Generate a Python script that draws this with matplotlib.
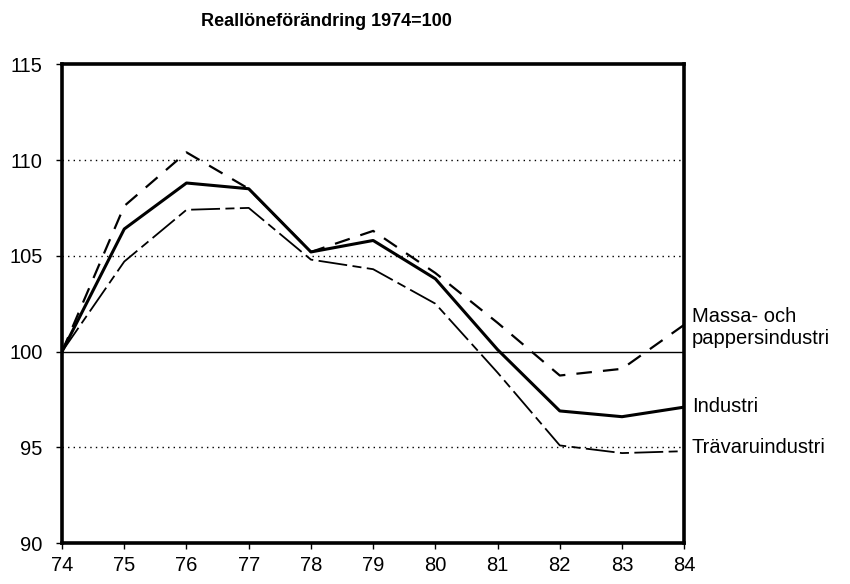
import matplotlib.pyplot as plt
import numpy as np

plt.rcParams['font.family'] = ['Liberation Sans', 'DejaVu Sans']

years = [74, 75, 76, 77, 78, 79, 80, 81, 82, 83, 84]
industri = [100, 106.4, 108.8, 108.5, 105.2, 105.8, 103.8, 100.1, 96.9, 96.6, 97.1]
massa = [100, 107.6, 110.4, 108.5, 105.2, 106.3, 104.1, 101.5, 98.75, 99.1, 101.4]
travaru = [100, 104.7, 107.4, 107.5, 104.8, 104.3, 102.5, 98.9, 95.1, 94.7, 94.8]

yticks = [90, 95, 100, 105, 110, 115]

fig = plt.figure(figsize=(8.5, 5.84), dpi=100)
ax = fig.add_axes([0.073, 0.070, 0.732, 0.820])

# reference lines
for v in [95, 105, 110]:
    ax.axhline(v, color='black', lw=1.0, ls=(0, (1, 3)), zorder=1)
ax.axhline(100, color='black', lw=1.0, zorder=1)

ax.plot(years, massa, color='black', lw=1.6, ls=(0, (7, 5)), zorder=3)
ax.plot(years, industri, color='black', lw=2.2, zorder=4)
ax.plot(years, travaru, color='black', lw=1.3, ls=(0, (16, 3, 5, 3)), zorder=3)

ax.set_xlim(74, 84)
ax.set_ylim(90, 115)
ax.set_xticks(years)
ax.set_xticklabels([str(y) for y in years])
ax.set_yticks(yticks)

for s in ax.spines.values():
    s.set_linewidth(2.6)
ax.tick_params(axis='both', direction='out', length=4, width=1, labelsize=14.5)
ax.tick_params(axis='x', pad=5)
ax.tick_params(axis='y', pad=10)

# labels at line ends
lab_kw = dict(fontsize=14.5, va='center', ha='left', clip_on=False)
ax.text(84.12, 101.25, 'Massa- och\npappersindustri', linespacing=1.2, **lab_kw)
ax.text(84.12, 97.15, 'Industri', **lab_kw)
ax.text(84.12, 95.0, 'Trävaruindustri', **lab_kw)

fig.text(0.384, 0.963, 'Reallöneförändring 1974=100', fontsize=13,
         fontweight='bold', ha='center', va='center')

fig.savefig('out.png', dpi=100)
